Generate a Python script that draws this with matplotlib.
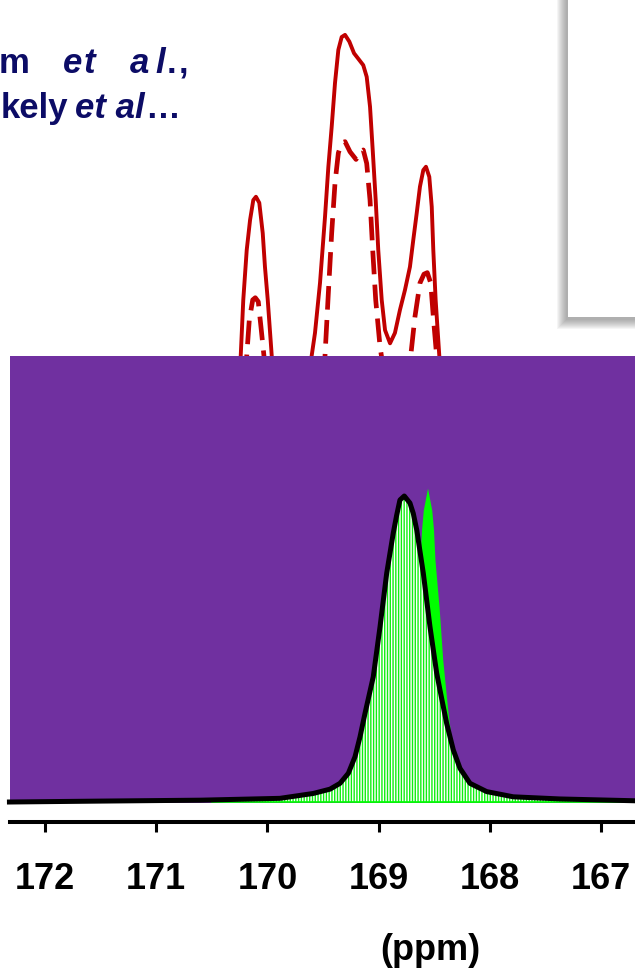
import matplotlib.pyplot as plt
from matplotlib.patches import Rectangle

plt.rcParams['font.family'] = ['Liberation Sans', 'DejaVu Sans']
plt.rcParams['font.weight'] = 'bold'
plt.rcParams['hatch.linewidth'] = 1.0

# red spectra (ppm, arbitrary intensity), partly hidden behind the inset
red_ppm = [170.381, 170.240, 170.217, 170.186, 170.156, 170.127, 170.103, 170.073,
           170.042, 170.022, 169.997, 169.961, 169.887, 169.779, 169.680, 169.602,
           169.572, 169.527, 169.482, 169.452, 169.422, 169.392, 169.362, 169.332,
           169.302, 169.263, 169.221, 169.174, 169.138, 169.107, 169.077, 169.053,
           169.026, 169.003, 168.972, 168.942, 168.897, 168.853, 168.808, 168.763,
           168.718, 168.688, 168.657, 168.628, 168.598, 168.574, 168.544, 168.522,
           168.508, 168.487, 168.454, 168.376]
red_solid = [0.497, 1.458, 1.641, 1.804, 1.902, 1.967, 1.978, 1.958,
             1.859, 1.749, 1.641, 1.458, 0.824, 0.497, 0.824, 1.458,
             1.533, 1.696, 1.912, 2.075, 2.206, 2.350, 2.458, 2.500,
             2.507, 2.485, 2.447, 2.425, 2.408, 2.370, 2.272, 2.131,
             1.967, 1.804, 1.641, 1.542, 1.499, 1.533, 1.608, 1.673,
             1.749, 1.837, 1.925, 2.011, 2.065, 2.076, 2.043, 1.945,
             1.804, 1.641, 1.458, 0.660]

dash_ppm = [170.291, 170.186, 170.163, 170.132, 170.109, 170.082, 170.058, 170.031,
            169.932, 169.707, 169.545, 169.482, 169.452, 169.422, 169.392, 169.362,
            169.332, 169.302, 169.257, 169.203, 169.167, 169.138, 169.107, 169.077,
            169.053, 169.026, 168.987, 168.942, 168.853, 168.763, 168.711, 168.673,
            168.628, 168.592, 168.562, 168.531, 168.508, 168.478, 168.403]
red_dashed = [0.497, 1.458, 1.575, 1.641, 1.648, 1.635, 1.553, 1.458,
              0.497, 0.333, 0.660, 1.458, 1.663, 1.859, 2.023, 2.121,
              2.154, 2.158, 2.125, 2.100, 2.125, 2.131, 2.087, 1.967,
              1.804, 1.641, 1.488, 1.379, 1.314, 1.379, 1.458, 1.586,
              1.696, 1.725, 1.730, 1.696, 1.586, 1.458, 0.660]

# inset: fitted line (black) and the narrow green peak
fit_ppm = [172.32, 171.5, 170.6, 169.887, 169.587, 169.437, 169.347, 169.272,
           169.212, 169.167, 169.122, 169.048, 168.987, 168.927, 168.868, 168.837,
           168.808, 168.769, 168.718, 168.688, 168.657, 168.598, 168.538, 168.478,
           168.448, 168.388, 168.328, 168.268, 168.178, 168.028, 167.789, 167.37,
           166.69]
fit_int = [0.0, 0.003, 0.006, 0.012, 0.028, 0.042, 0.061, 0.094,
           0.148, 0.213, 0.290, 0.409, 0.573, 0.748, 0.879, 0.938,
           0.987, 1.000, 0.977, 0.943, 0.889, 0.748, 0.573, 0.422,
           0.366, 0.257, 0.170, 0.110, 0.061, 0.034, 0.017, 0.010,
           0.004]

green_ppm = [169.212, 168.987, 168.870, 168.816, 168.778, 168.742, 168.697, 168.666,
             168.627, 168.614, 168.598, 168.560, 168.522, 168.506, 168.493, 168.454,
             168.423, 168.378, 168.342, 168.304, 168.250, 168.133, 167.908]
green_int = [0.003, 0.016, 0.056, 0.121, 0.193, 0.301, 0.464, 0.627,
             0.791, 0.889, 0.954, 1.026, 0.954, 0.889, 0.791, 0.627,
             0.464, 0.301, 0.193, 0.121, 0.056, 0.016, 0.003]

tick_ppm = [172, 171, 170, 169, 168, 167]

W, H = 635, 968
XLIM = (172.315, 166.694)
RED = '#C00000'
NAVY = '#0c0c66'
PURPLE = '#7030A0'


def fx(px):
    return px / W


def fy(py):
    return 1 - py / H


fig = plt.figure(figsize=(W / 100, H / 100), dpi=100)

# main axes: red spectra + ppm axis
ax = fig.add_axes([fx(10), fy(822), 1 - fx(10), fy(0) - fy(822)], zorder=1)
ax.patch.set_alpha(0)
ax.plot(red_ppm, red_solid, color=RED, lw=2.8, solid_joinstyle='round')
ax.plot(dash_ppm, red_dashed, color=RED, lw=3.4, linestyle=(0, (5, 2.2)))
ax.set_xlim(*XLIM)
ax.set_ylim(-0.0654, 2.621)
for s in ('top', 'left', 'right'):
    ax.spines[s].set_visible(False)
ax.spines['bottom'].set_linewidth(2.9)
ax.set_yticks([])
ax.set_xticks(tick_ppm, labels=[str(t) for t in tick_ppm])
ax.tick_params(axis='x', direction='out', length=7, width=2.2, labelsize=26, pad=22)
ax.set_xlabel('(ppm)', fontsize=26, fontweight='bold')
ax.xaxis.set_label_coords(0.672, -0.135)

# purple inset with the deconvoluted peak
ax_in = fig.add_axes([fx(10), fy(802.5), 1 - fx(10), fy(355.7) - fy(802.5)], zorder=2)
ax_in.set_facecolor(PURPLE)
ax_in.fill_between(green_ppm, 0, green_int, color='#00FF00', lw=0, zorder=1)
ax_in.fill_between(fit_ppm, 0, fit_int, facecolor='white', edgecolor='#11ee11',
                   hatch='||||||', lw=0, zorder=2)
ax_in.plot([170.5, XLIM[1]], [0, 0], color='#00FF00', lw=1.2, zorder=2, clip_on=False)
ax_in.plot(fit_ppm, fit_int, color='black', lw=3.6, solid_joinstyle='round',
           zorder=3, clip_on=False)
ax_in.set_xlim(*XLIM)
ax_in.set_ylim(-0.0016, 1.4585)
ax_in.set_xticks([])
ax_in.set_yticks([])
for s in ax_in.spines.values():
    s.set_visible(False)

# white panel with soft shadow at top right
for i in range(10):
    fig.add_artist(Rectangle((fx(568.3 - 2 - i), fy(316.7 + 3 + i)), 0.3, 0.5,
                             facecolor='#555555', alpha=0.06, lw=0, zorder=3))
fig.add_artist(Rectangle((fx(568.3), fy(316.7)), 0.3, 0.5, facecolor='white',
                         lw=0, zorder=4))

# citation text at top left (cut off by the crop)
tk = dict(color=NAVY, fontsize=25, fontweight='bold', va='baseline', zorder=5)
fig.text(fx(-1), fy(73), 'm', **tk)
fig.text(fx(63), fy(73), 'e', style='italic', **tk)
fig.text(fx(84), fy(73), 't', style='italic', **tk)
fig.text(fx(130), fy(73), 'a', style='italic', **tk)
fig.text(fx(155), fy(73), 'l', style='italic', **tk)
fig.text(fx(167), fy(73), '.', **tk)
fig.text(fx(179), fy(73), ',', **tk)
fig.text(fx(68), fy(118), 'kely', ha='right', **tk)
fig.text(fx(75), fy(118), 'et al', style='italic', **tk)
fig.text(fx(145), fy(118), '\u2026', **tk)

fig.savefig('out.png', dpi=100)
